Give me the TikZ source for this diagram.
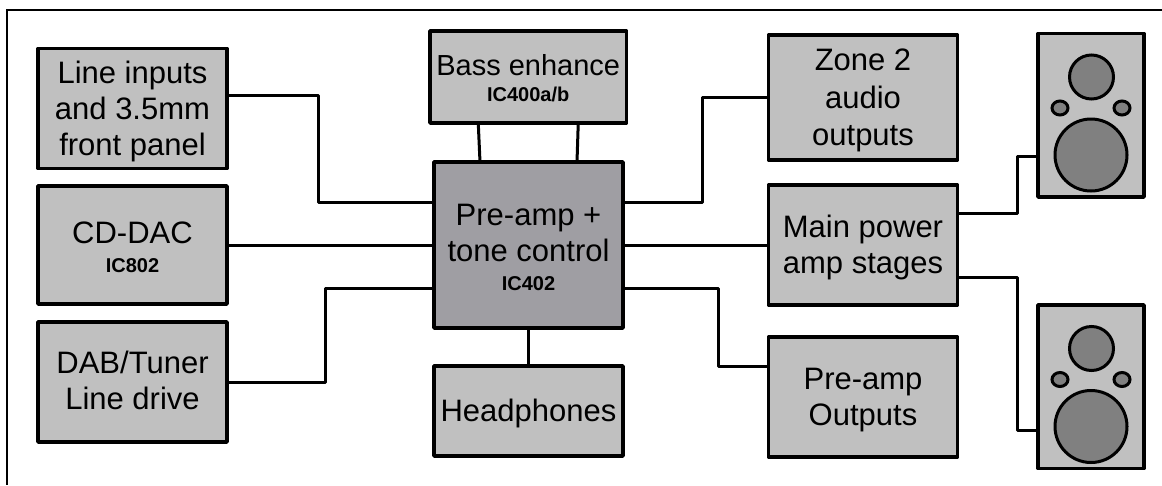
\documentclass[tikz,border=0pt]{standalone}
\usepackage{fontspec}
\setmainfont{Liberation Sans}
\usetikzlibrary{positioning, shapes.geometric}

\definecolor{boxgray}{HTML}{C0C0C0}
\definecolor{coregray}{HTML}{9F9EA3}
\definecolor{drivergray}{HTML}{808080}

\newcommand{\toppad}{\rule{0pt}{28pt}}
\newcommand{\lowpad}[1]{\rule[-#1]{0pt}{#1}}
\newcommand{\icname}[1]{{\fontsize{20}{22}\selectfont\bfseries #1}\lowpad{3pt}}

\begin{document}
\begin{tikzpicture}[
    x=1pt,
    y=-1pt,
    block/.style={rectangle, draw=black, fill=boxgray, line width=3.5pt, line join=round,
      inner sep=0pt, outer sep=0pt, minimum width=189pt, align=center,
      font=\fontsize{31}{36}\selectfont},
    cabinet/.style={block, minimum width=106pt, minimum height=163.5pt},
    driver/.style={circle, draw=black, fill=drivergray, line width=3pt, inner sep=0pt, outer sep=0pt},
    port/.style={ellipse, draw=black, fill=drivergray, line width=3pt, inner sep=0pt, outer sep=0pt,
      minimum width=16pt, minimum height=14pt},
    wire/.style={line width=3pt, line join=round}
  ]
  \useasboundingbox (0,0) rectangle (1162,485);

  % frame, only top and left are in view
  \draw[line width=1.5pt] (1162,10) -- (7,10) -- (7,485);

  % inputs
  \node[block, minimum height=120pt] (linein) at (132.5,108.5) {\toppad Line inputs\\and 3.5mm\\front panel};
  \node[block, minimum height=118pt] (cddac) [below=17.5pt of linein] {\toppad CD-DAC\\[-7pt]\icname{IC802}};
  \node[block, minimum height=120pt] (dab) [below=18pt of cddac] {\toppad DAB/Tuner\\Line drive\lowpad{10pt}};

  % middle column
  \node[block, fill=coregray, minimum height=166pt] (pre) at (528.5,245) {\toppad Pre-amp +\\tone control\\[-7pt]\icname{IC402}};
  \node[block, minimum width=196.5pt, minimum height=92pt, font=\fontsize{29}{36}\selectfont] (bass) at (528.25,77)
    {\toppad Bass enhance\\[-9.3pt]\icname{IC400a/b}\lowpad{5pt}};
  \node[block, minimum height=90pt] (phones) [below=38pt of pre] {\toppad Headphones};

  % outputs
  \node[block, minimum height=125pt] (zone) at (863,97.5) {\toppad Zone 2\\[1.5pt]audio\\[1.5pt]outputs};
  \node[block, minimum height=120pt] (mainamp) [below=25pt of zone] {\toppad Main power\\amp stages};
  \node[block, minimum height=120pt] (outs) [below=32pt of mainamp] {\toppad Pre-amp\\Outputs};

  % speakers
  \foreach \spk/\yy in {a/0, b/271.5} {
    \node[cabinet] (spk\spk) at (1091,115.25+\yy) {};
    \node[driver, minimum size=44pt] (tweet\spk) at (1091.5,77+\yy) {};
    \node[driver, minimum size=72pt] (woof\spk) at (1091,155+\yy) {};
    \node[port] (portl\spk) at (1060,108+\yy) {};
    \node[port] (portr\spk) at (1122,108+\yy) {};
  }

  % wires
  \draw[wire] ([yshift=13.5pt]linein.east) -- ++(91,0) |- ([yshift=43pt]pre.west);
  \draw[wire] (cddac.east) -- (pre.west);
  \draw[wire] (dab.east) -- ++(98.5,0) |- ([yshift=-43pt]pre.west);
  \draw[wire] ([xshift=-50pt]bass.south) -- ([xshift=-48.5pt]pre.north);
  \draw[wire] ([xshift=50pt]bass.south) -- ([xshift=48.5pt]pre.north);
  \draw[wire] (pre.south) -- (phones.north);
  \draw[wire] (zone.west) -- ++(-66,0) |- ([yshift=43pt]pre.east);
  \draw[wire] (pre.east) -- (mainamp.west);
  \draw[wire] ([yshift=30.5pt]outs.west) -- ++(-50.5,0) |- ([yshift=-43pt]pre.east);
  \draw[wire] ([yshift=32pt]mainamp.east) -- ++(59.5,0) |- ([yshift=-41.5pt]spka.west);
  \draw[wire] ([yshift=-32pt]mainamp.east) -- ++(59.5,0) |- ([yshift=-44pt]spkb.west);

\end{tikzpicture}
\end{document}
